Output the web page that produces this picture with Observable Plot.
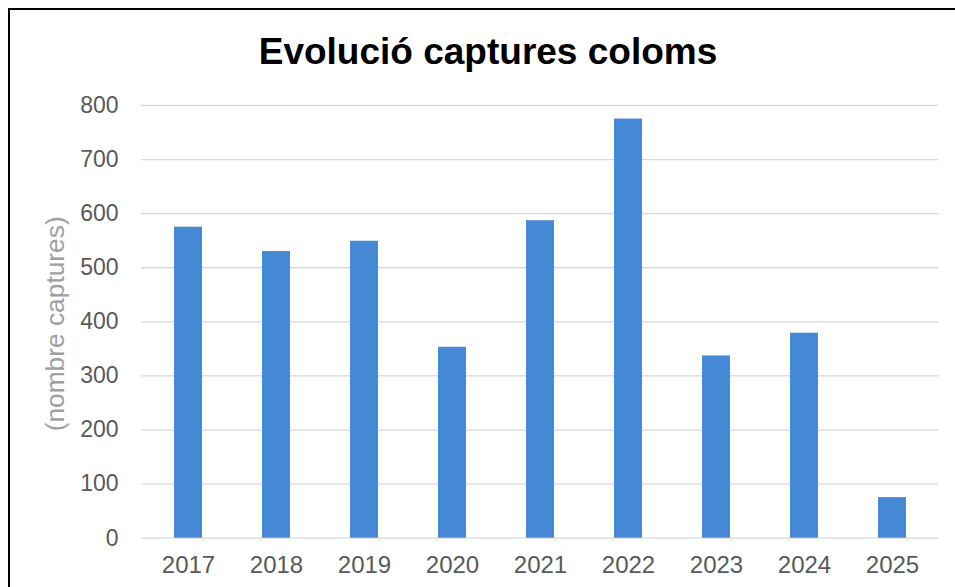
<!DOCTYPE html>
<html>
<head>
<meta charset="utf-8">
<script src="https://cdn.jsdelivr.net/npm/d3@7"></script>
<script src="https://cdn.jsdelivr.net/npm/@observablehq/plot@0.6"></script>
<style>
  html, body { margin: 0; padding: 0; background: #fff; overflow: hidden; width: 955px; height: 587px; }
  body { position: relative; font-family: "Liberation Sans", Arial, sans-serif; }
  #frame { position: absolute; left: 8px; top: 8px; width: 1000px; height: 1000px;
           border-left: 2.5px solid #000; border-top: 2.5px solid #000; box-sizing: border-box; }
  #title { position: absolute; left: 0; width: 976px; top: 33px; text-align: center;
           font-size: 37px; line-height: 37px; font-weight: bold; color: #000; }
  #chart { position: absolute; left: 0; top: 80px; }
</style>
</head>
<body>
<div id="frame"></div>
<div id="title">Evolució captures coloms</div>
<div id="chart"></div>
<script>
const years = ["2017", "2018", "2019", "2020", "2021", "2022", "2023", "2024", "2025"];
const captures = [575, 530, 549, 353, 587, 775, 337, 379, 75];
const yTicks = [0, 100, 200, 300, 400, 500, 600, 700, 800];
const yLabel = "(nombre captures)";

const data = years.map((y, i) => ({year: y, value: captures[i]}));

const chart = Plot.plot({
  width: 955,
  height: 507,
  marginTop: 25,
  marginBottom: 49.3,
  marginLeft: 141,
  marginRight: 16.5,
  style: {fontFamily: "'Liberation Sans', Arial, sans-serif", background: "transparent"},
  x: {domain: years, paddingInner: 0.687, paddingOuter: 0.3435, label: null},
  y: {domain: [0, 800], ticks: yTicks, label: null},
  marks: [
    Plot.ruleY(yTicks, {stroke: "#d9d9d9", strokeWidth: 1.3}),
    Plot.barY(data, {x: "year", y: "value", fill: "#4589d7"}),
    Plot.axisX({tickSize: 0, tickPadding: 18, fontSize: 24, color: "#595959", label: null}),
    Plot.axisY({ticks: yTicks, tickSize: 0, tickPadding: 23, fontSize: 23, color: "#595959", label: null}),
    Plot.text([yLabel], {text: d => d, frameAnchor: "left", dx: -86, dy: 2, rotate: -90,
      textAnchor: "middle", lineAnchor: "middle", fontSize: 25, fill: "#a0a0a0"})
  ]
});
d3.select(chart).selectAll("text").filter(function() { return this.textContent === yLabel; })
  .attr("textLength", 215).attr("lengthAdjust", "spacingAndGlyphs");
document.getElementById("chart").appendChild(chart);
</script>
</body>
</html>
